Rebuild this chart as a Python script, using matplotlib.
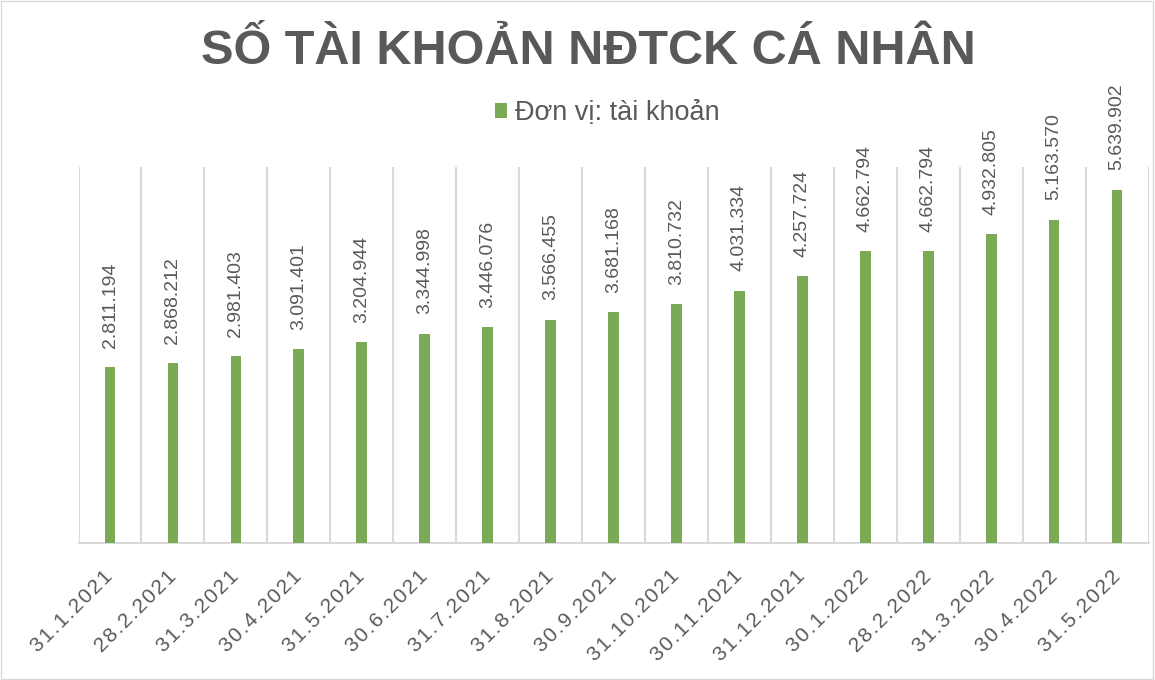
import matplotlib
matplotlib.use("Agg")
import matplotlib.pyplot as plt
from matplotlib.patches import Rectangle

# data
dates = ["31.1.2021", "28.2.2021", "31.3.2021", "30.4.2021", "31.5.2021",
         "30.6.2021", "31.7.2021", "31.8.2021", "30.9.2021", "31.10.2021",
         "30.11.2021", "31.12.2021", "30.1.2022", "28.2.2022", "31.3.2022",
         "30.4.2022", "31.5.2022"]
accounts = [2811194, 2868212, 2981403, 3091401, 3204944, 3344998, 3446076,
            3566455, 3681168, 3810732, 4031334, 4257724, 4662794, 4662794,
            4932805, 5163570, 5639902]

green = "#7aaa55"
grey_text = "#595959"

plt.rcParams["font.family"] = ["Liberation Sans", "DejaVu Sans"]

fig = plt.figure(figsize=(11.55, 6.8), dpi=100)
ax = fig.add_axes([0.068, 0.2015, 0.9264, 0.5525])

x = list(range(len(dates)))
ax.bar(x, accounts, width=0.17, color=green, label="Đơn vị: tài khoản", zorder=3)

# data labels, vertical
for xi, v in zip(x, accounts):
    lbl = f"{v:,}".replace(",", ".")
    ax.text(xi, v + 310000, lbl, rotation=90, ha="center", va="bottom",
            fontsize=14, color=grey_text)

ax.set_xlim(-0.5, len(dates) - 0.5)
ax.set_ylim(0, 6000000)

# vertical gridlines between categories
for b in range(len(dates) + 1):
    ax.axvline(b - 0.5, ymin=0, ymax=1, color="#d9d9d9", lw=1.5, zorder=1)

for s in ["top", "left", "right"]:
    ax.spines[s].set_visible(False)
ax.spines["bottom"].set_color("#d9d9d9")
ax.spines["bottom"].set_linewidth(1.5)
ax.set_yticks([])
ax.set_xticks(x)
# Excel draws these with wide letter spacing
spaced = ["\u200a".join(d) for d in dates]
ax.set_xticklabels(spaced, rotation=45, ha="right", va="center",
                   rotation_mode="anchor", fontsize=15, color=grey_text)
ax.tick_params(axis="x", length=0, pad=22)

fig.text(0.509, 0.925, "SỐ TÀI KHOẢN NĐTCK CÁ NHÂN", ha="center", va="center",
         fontsize=35, fontweight="bold", color=grey_text)
fig.legend(loc="center", bbox_to_anchor=(0.526, 0.834), frameon=False,
           fontsize=19.5, handlelength=0.45, handleheight=0.45, handletextpad=0.3,
           labelcolor=grey_text)

fig.patches.append(Rectangle((0.001, 0.001), 0.997, 0.997, transform=fig.transFigure,
                             fill=False, edgecolor="#d9d9d9", lw=1))

fig.savefig("out.png", dpi=100)
